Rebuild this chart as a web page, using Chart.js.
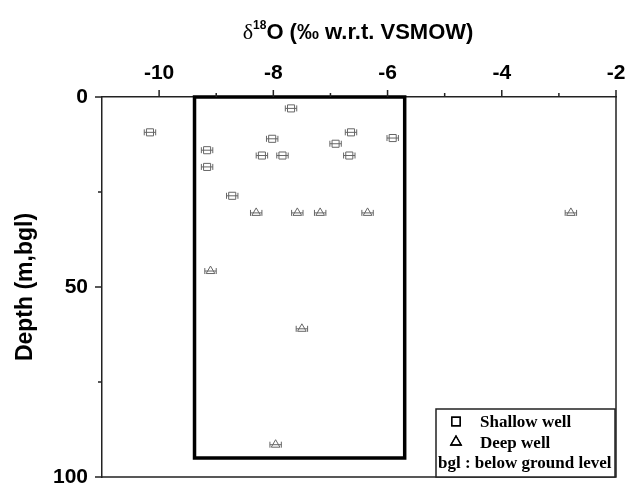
<!DOCTYPE html>
<html>
<head>
<meta charset="utf-8">
<script src="https://cdn.jsdelivr.net/npm/chart.js@4.4.1/dist/chart.umd.min.js"></script>
<style>
html, body { margin: 0; padding: 0; background: #fff; }
#wrap { width: 628px; height: 483px; }
</style>
</head>
<body>
<div id="wrap"><canvas id="chart" width="628" height="483"></canvas></div>
<script>
// data
const shallowO18   = [-7.69, -10.16, -8.02, -5.91, -6.64, -6.91, -9.16, -8.20, -7.84, -6.67, -9.16, -8.72];
const shallowDepth = [3, 9.3, 11, 10.8, 9.3, 12.3, 14, 15.4, 15.4, 15.4, 18.4, 26];
const deepO18      = [-8.30, -7.58, -7.18, -6.35, -2.79, -9.10, -7.50, -7.96];
const deepDepth    = [30.5, 30.5, 30.5, 30.5, 30.5, 45.8, 61, 91.5];
const errO18 = 0.1;

const xTicks = [-10, -9, -8, -7, -6, -5, -4, -3, -2];
const xLabelTicks = [-10, -8, -6, -4, -2];
const yTicks = [0, 25, 50, 75, 100];
const yLabelTicks = [0, 50, 100];

const boxO18 = [-9.38, -5.7];
const boxDepth = [0, 95];

const legendLabels = ["Shallow well", "Deep well", "bgl : below ground level"];

const markerColor = "#666";
const axisColor = "#222";

function toPoints(xs, ys) {
    return xs.map((x, i) => ({ x: x, y: ys[i] }));
}

// error bars, box, ticks, title, legend
const extras = {
    id: "extras",
    beforeDatasetsDraw(chart) {
        const ctx = chart.ctx;
        const xs = chart.scales.x, ys = chart.scales.y;
        ctx.save();
        // grey error bars
        ctx.strokeStyle = markerColor;
        ctx.lineWidth = 1;
        chart.data.datasets.forEach(ds => {
            ds.data.forEach(p => {
                const x0 = xs.getPixelForValue(p.x - errO18);
                const x1 = xs.getPixelForValue(p.x + errO18);
                const y = ys.getPixelForValue(p.y);
                ctx.beginPath();
                ctx.moveTo(x0, y); ctx.lineTo(x1, y);
                ctx.moveTo(x0, y - 3); ctx.lineTo(x0, y + 3);
                ctx.moveTo(x1, y - 3); ctx.lineTo(x1, y + 3);
                ctx.stroke();
            });
        });
        // thick box
        const bl = xs.getPixelForValue(boxO18[0]);
        const br = xs.getPixelForValue(boxO18[1]);
        const bt = ys.getPixelForValue(boxDepth[0]);
        const bb = ys.getPixelForValue(boxDepth[1]);
        ctx.strokeStyle = "#000";
        ctx.lineWidth = 3.5;
        ctx.strokeRect(bl, bt, br - bl, bb - bt);
        ctx.restore();
    },
    afterDraw(chart) {
        const ctx = chart.ctx;
        const area = chart.chartArea;
        const xs = chart.scales.x, ys = chart.scales.y;
        ctx.save();
        ctx.strokeStyle = axisColor;
        ctx.lineWidth = 1.5;
        // right and bottom frame
        ctx.beginPath();
        ctx.moveTo(area.right, area.top);
        ctx.lineTo(area.right, area.bottom);
        ctx.lineTo(area.left, area.bottom);
        ctx.stroke();
        // ticks
        ctx.beginPath();
        xTicks.forEach(v => {
            const px = xs.getPixelForValue(v);
            const len = xLabelTicks.includes(v) ? 7 : 4;
            ctx.moveTo(px, area.top);
            ctx.lineTo(px, area.top - len);
        });
        yTicks.forEach(v => {
            const py = ys.getPixelForValue(v);
            const len = yLabelTicks.includes(v) ? 7 : 4;
            ctx.moveTo(area.left, py);
            ctx.lineTo(area.left - len, py);
        });
        ctx.stroke();

        // title with superscript
        const parts = [
            { t: "\u03b4", f: "22px 'Liberation Serif'", dy: 0 },
            { t: "18", f: "bold 12px 'Liberation Sans'", dy: -10 },
            { t: "O (\u2030 w.r.t. VSMOW)", f: "bold 22px 'Liberation Sans'", dy: 0 }
        ];
        let total = 0;
        parts.forEach(p => { ctx.font = p.f; p.w = ctx.measureText(p.t).width; total += p.w; });
        let tx = 358 - total / 2;
        ctx.fillStyle = "#000";
        ctx.textBaseline = "alphabetic";
        ctx.textAlign = "left";
        parts.forEach(p => {
            ctx.font = p.f;
            ctx.fillText(p.t, tx, 39 + p.dy);
            tx += p.w;
        });

        // legend box
        ctx.lineWidth = 1.5;
        ctx.strokeStyle = axisColor;
        ctx.fillStyle = "#fff";
        ctx.fillRect(436, 409, 179, 68);
        ctx.strokeRect(436, 409, 179, 68);
        const sym = [
            { style: "rect", y: 421.5 },
            { style: "triangle", y: 442 }
        ];
        sym.forEach(s => {
            ctx.strokeStyle = "#000";
            ctx.lineWidth = 1.3;
            Chart.helpers.drawPoint(ctx, { pointStyle: s.style, radius: 6, borderWidth: 1.3 }, 456, s.y);
            ctx.stroke();
        });
        ctx.fillStyle = "#000";
        ctx.font = "bold 17px 'Liberation Serif'";
        ctx.fillText(legendLabels[0], 480, 427);
        ctx.fillText(legendLabels[1], 480, 447.5);
        ctx.fillText(legendLabels[2], 438, 468);
        ctx.restore();
    }
};

const ctx = document.getElementById("chart").getContext("2d");
new Chart(ctx, {
    type: "scatter",
    data: {
        datasets: [{
            label: legendLabels[0],
            data: toPoints(shallowO18, shallowDepth),
            pointStyle: "rect",
            pointRadius: 5,
            borderColor: markerColor,
            backgroundColor: "rgba(0,0,0,0)",
            borderWidth: 1
        }, {
            label: legendLabels[1],
            data: toPoints(deepO18, deepDepth),
            pointStyle: "triangle",
            pointRadius: 5,
            borderColor: markerColor,
            backgroundColor: "rgba(0,0,0,0)",
            borderWidth: 1
        }]
    },
    options: {
        responsive: false,
        devicePixelRatio: 1,
        animation: false,
        layout: { padding: { top: 0, right: 12, bottom: 5, left: 0 } },
        plugins: {
            legend: { display: false },
            tooltip: { enabled: false }
        },
        scales: {
            x: {
                type: "linear",
                position: "top",
                min: -11,
                max: -2,
                afterBuildTicks: s => { s.ticks = xTicks.map(v => ({ value: v })); },
                afterFit: s => { s.height = 97; s.paddingLeft = 0; s.paddingRight = 0; },
                grid: { display: false, drawTicks: false },
                border: { display: true, color: axisColor, width: 1.5 },
                ticks: {
                    autoSkip: false,
                    maxRotation: 0,
                    padding: 11,
                    color: "#000",
                    font: { family: "'Liberation Sans'", size: 21, weight: "bold" },
                    callback: v => xLabelTicks.includes(v) ? String(v) : ""
                }
            },
            y: {
                type: "linear",
                reverse: true,
                min: 0,
                max: 100,
                afterBuildTicks: s => { s.ticks = yTicks.map(v => ({ value: v })); },
                afterFit: s => { s.width = 102; s.paddingTop = 0; s.paddingBottom = 0; },
                grid: { display: false, drawTicks: false },
                border: { display: true, color: axisColor, width: 1.5 },
                ticks: {
                    autoSkip: false,
                    padding: 14,
                    color: "#000",
                    font: { family: "'Liberation Sans'", size: 21, weight: "bold" },
                    callback: v => yLabelTicks.includes(v) ? String(v) : ""
                },
                title: {
                    display: true,
                    text: "Depth (m,bgl)",
                    color: "#000",
                    font: { family: "'Liberation Sans'", size: 23, weight: "bold" },
                    padding: { top: 12, bottom: 0 }
                }
            }
        }
    },
    plugins: [extras]
});
</script>
</body>
</html>
